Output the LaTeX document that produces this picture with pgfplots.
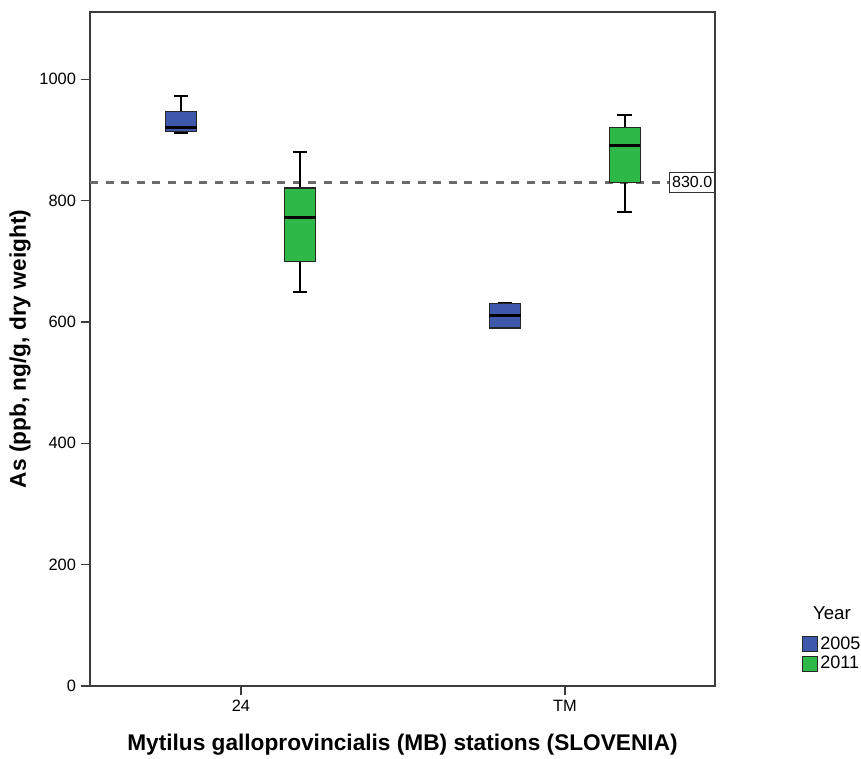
\documentclass[border=0pt]{standalone}
\usepackage{fontspec}
\setmainfont{Liberation Sans}
\usepackage{pgfplots}
\pgfplotsset{compat=1.18}
\definecolor{cA}{RGB}{62,88,172}
\definecolor{cB}{RGB}{46,184,72}
\definecolor{axgray}{RGB}{60,60,60}
\pgfplotsset{sqlegend/.style={legend image code/.code={\draw[##1, line width=0.7pt] (0pt,-5.6pt) rectangle (11.5pt,5.6pt);}}}
\begin{document}
\begin{tikzpicture}
\useasboundingbox (-67.5pt,-54pt) rectangle (578.25pt,514.5pt);
\begin{axis}[
  at={(0pt,0pt)}, anchor=south west,
  scale only axis, width=468.75pt, height=505.5pt,
  xmin=0.534, xmax=2.463, ymin=0, ymax=1111,
  axis line style={axgray, line width=1pt},
  xtick={1,2}, xticklabels={24,TM},
  ytick={0,200,400,600,800,1000},
  xtick pos=lower, ytick pos=left,
  tick align=outside, major tick length=7pt,
  tick style={axgray, line width=1pt},
  ticklabel style={font=\fontsize{12.3}{14}\selectfont, text=black},
  /pgf/number format/assume math mode=true,
  /pgf/number format/1000 sep={},
  every axis x label/.style={at={(rel axis cs:0.5,0)}, yshift=-44pt, anchor=center},
  every axis y label/.style={at={(rel axis cs:0,0.5)}, xshift=-52.5pt, rotate=90, anchor=center},
  label style={font=\bfseries\fontsize{17}{20}\selectfont},
  xlabel={Mytilus galloprovincialis (MB) stations (SLOVENIA)},
  ylabel={As (ppb, ng/g, dry weight)},
  unbounded coords=jump,
  legend style={at={(rel axis cs:1.139,0.074)}, anchor=north west, draw=none, fill=none,
    inner sep=0pt, row sep=2.5pt, font=\fontsize{13.5}{15}\selectfont,
    nodes={inner xsep=1.5pt, inner ysep=0.5pt}},
  legend cell align=left,
  clip=false,
]
% reference line
\addplot[forget plot, dash pattern=on 6pt off 5.7pt, line width=1.8pt, color=black!58]
  coordinates {(0.534,830) (2.463,830)};
% whiskers (stems and caps)
\addplot[forget plot, black, line width=1.5pt] coordinates {
  (0.815,947) (0.815,972) (nan,nan) (0.792,972) (0.838,972) (nan,nan)
  (0.815,914) (0.815,912) (nan,nan) (0.792,912) (0.838,912) (nan,nan)
  (1.182,821) (1.182,881) (nan,nan) (1.159,881) (1.205,881) (nan,nan)
  (1.182,700) (1.182,650) (nan,nan) (1.159,650) (1.205,650) (nan,nan)
  (1.792,631) (1.838,631) (nan,nan) (1.792,590) (1.838,590) (nan,nan)
  (2.185,920) (2.185,941) (nan,nan) (2.162,941) (2.208,941) (nan,nan)
  (2.185,830) (2.185,781) (nan,nan) (2.162,781) (2.208,781)
};
% boxes (lower quartile to upper quartile)
\addplot[forget plot, fill=cA, draw=black!85, line width=0.9pt] coordinates {
  (0.767,914) (0.863,914) (0.863,947) (0.767,947)} --cycle;
\addplot[forget plot, fill=cB, draw=black!85, line width=0.9pt] coordinates {
  (1.134,700) (1.230,700) (1.230,821) (1.134,821)} --cycle;
\addplot[forget plot, fill=cA, draw=black!85, line width=0.9pt] coordinates {
  (1.767,590) (1.863,590) (1.863,631) (1.767,631)} --cycle;
\addplot[forget plot, fill=cB, draw=black!85, line width=0.9pt] coordinates {
  (2.137,830) (2.233,830) (2.233,920) (2.137,920)} --cycle;
% medians
\addplot[forget plot, black, line width=2.2pt] coordinates {
  (0.767,921) (0.863,921) (nan,nan)
  (1.134,772) (1.230,772) (nan,nan)
  (1.767,610) (1.863,610) (nan,nan)
  (2.137,891) (2.233,891)
};
\node[draw=black!80, line width=0.6pt, fill=white, anchor=east, inner xsep=1.8pt, inner ysep=3.5pt,
  font=\fontsize{12}{13}\selectfont] at (axis cs:2.463,830) {830.0};
\node[font=\fontsize{14}{16}\selectfont] at (rel axis cs:1.187,0.108) {Year};
\addlegendimage{sqlegend, fill=cA, draw=black!85}
\addlegendentry{2005}
\addlegendimage{sqlegend, fill=cB, draw=black!85}
\addlegendentry{2011}
\end{axis}
\end{tikzpicture}
\end{document}
